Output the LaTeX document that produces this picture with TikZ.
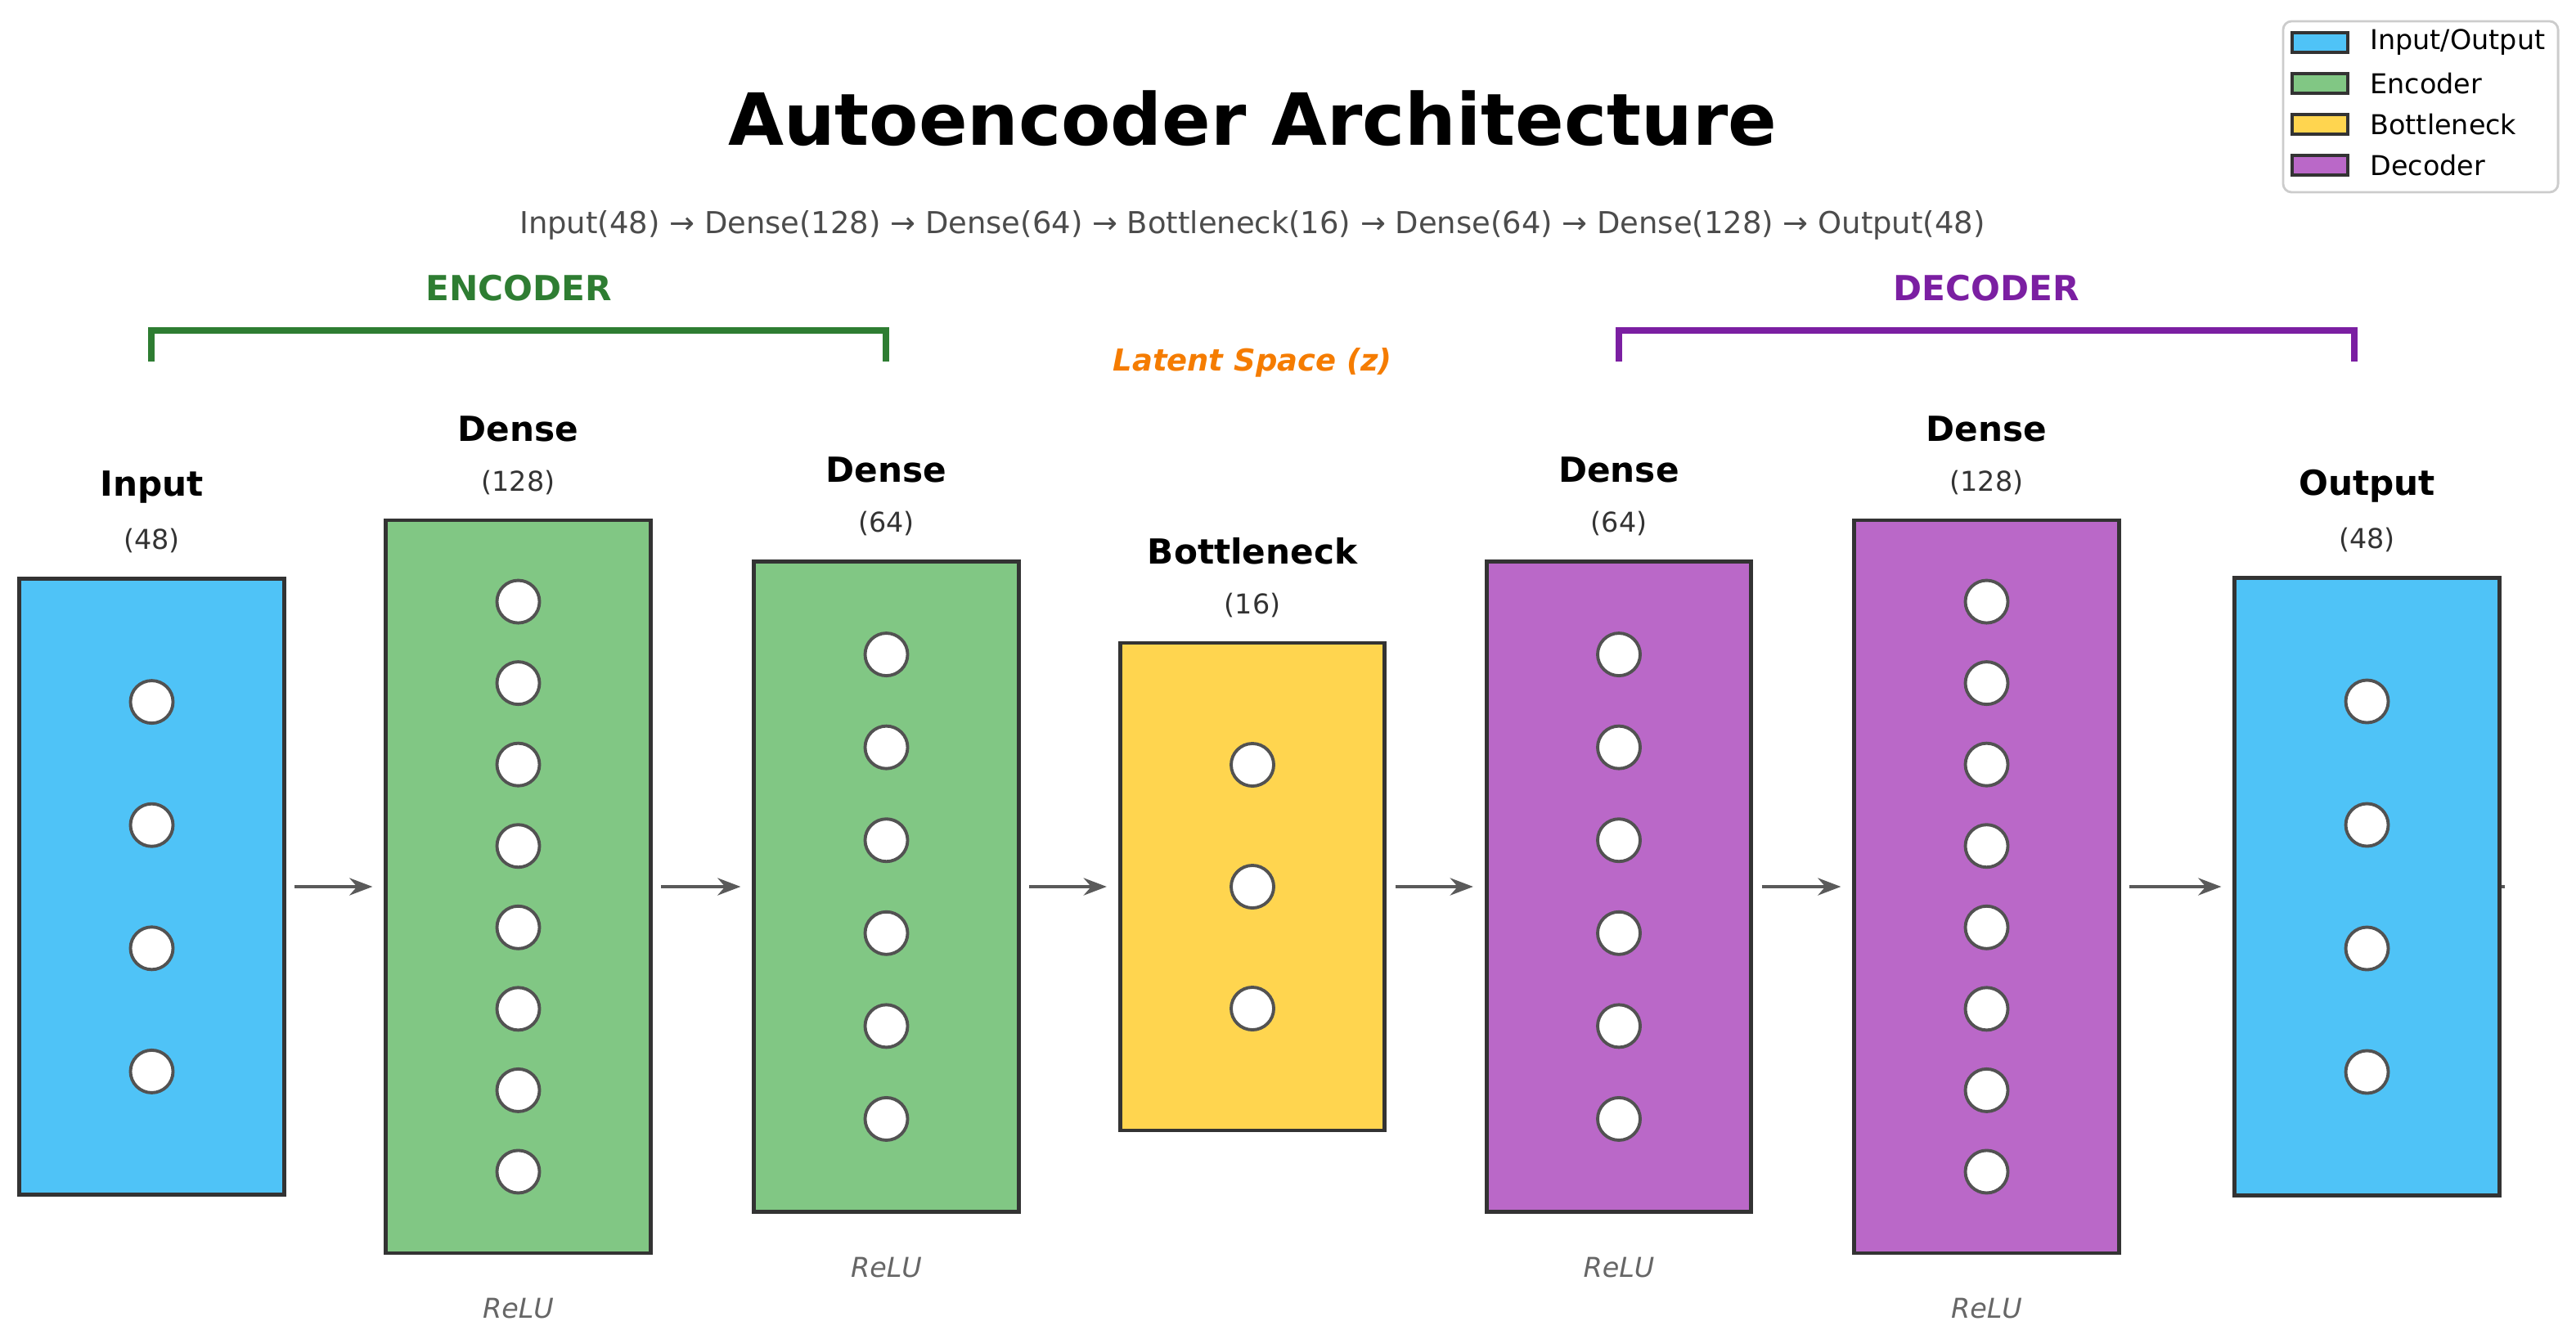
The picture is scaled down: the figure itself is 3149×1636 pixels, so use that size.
\documentclass[tikz,border=0pt]{standalone}
\usepackage{fontspec}
\setmainfont{DejaVu Sans}
\usetikzlibrary{arrows.meta,calc}
\definecolor{cio}{HTML}{4FC3F7}
\definecolor{cenc}{HTML}{81C784}
\definecolor{cbot}{HTML}{FFD54F}
\definecolor{cdec}{HTML}{BA68C8}
\definecolor{edge}{HTML}{333333}
\definecolor{arrg}{HTML}{5A5A5A}
\definecolor{gencl}{HTML}{2E7D32}
\definecolor{gdecl}{HTML}{7B1FA2}
\definecolor{latc}{HTML}{F57C00}
\begin{document}
\begin{tikzpicture}[x=0.01cm,y=-0.01cm,
  layer/.style={draw=edge,line width=1.4pt,minimum width=3.23cm,inner sep=0pt},
  neuron/.style={circle,draw=edge!85,line width=1.1pt,fill=white,minimum size=0.52cm,inner sep=0pt},
  ltitle/.style={font=\bfseries\fontsize{12}{14}\selectfont},
  lsub/.style={font=\fontsize{9.5}{11}\selectfont,text=edge},
  relu/.style={font=\itshape\fontsize{9.5}{11}\selectfont,text=black!60},
  arr/.style={draw=arrg,line width=1.2pt,-{Stealth[length=8pt,width=6pt]},shorten <=3pt,shorten >=4pt},
  legpatch/.style={draw=edge,line width=0.9pt,minimum width=0.68cm,minimum height=0.24cm,inner sep=0pt},
  legtxt/.style={anchor=west,font=\fontsize{9.5}{11}\selectfont},
  brk/.style={line width=2.2pt}]
\useasboundingbox (0,0) rectangle (3149,1636);
\node[font=\bfseries\fontsize{25}{30}\selectfont] (title) at (1531,145) {Autoencoder Architecture};
\node[font=\fontsize{10.5}{12}\selectfont,text=black!70] (sub) at (1531,275) {Input(48) → Dense(128) → Dense(64) → Bottleneck(16) → Dense(64) → Dense(128) → Output(48)};
\foreach \i/\cx/\h/\n/\col/\tt/\sb/\rl in {
  1/185.5/753/4/cio/Input/48/0,
  2/633.5/896/8/cenc/Dense/128/1,
  3/1083.5/795/6/cenc/Dense/64/1,
  4/1531/596/3/cbot/Bottleneck/16/0,
  5/1979/795/6/cdec/Dense/64/1,
  6/2428.5/896/8/cdec/Dense/128/1,
  7/2893.5/755/4/cio/Output/48/0}{
  \node[layer,fill=\col,minimum height=\h*0.01cm] (L\i) at (\cx,1084) {};
  \foreach \k in {1,...,\n}{
    \node[neuron] (L\i n\k) at (\cx,{1084-\h/2+\k*\h/(\n+1)}) {};
  }
  \node[ltitle] (T\i) at (\cx,{1084-\h/2-112}) {\tt};
  \node[lsub] (S\i) at (\cx,{1084-\h/2-46}) {(\sb)};
  \ifnum\rl=1 \node[relu] (R\i) at (\cx,{1084+\h/2+68}) {ReLU};\fi
}
\foreach \a/\b in {1/2,2/3,3/4,4/5,5/6,6/7}{\draw[arr] (L\a.east) -- (L\b.west);}
\coordinate (stub) at (3062,1084);
\draw[arrg,line width=1.2pt] (L7.east) -- (stub);
% brackets
\coordinate (e1) at (185,442); \coordinate (e2) at (1083,442);
\draw[brk,gencl] (e1) -- ++(0,-38) -| (e2);
\node[font=\bfseries\fontsize{12}{14}\selectfont,text=gencl] (enc) at (634,352) {ENCODER};
\coordinate (d1) at (1979,442); \coordinate (d2) at (2878,442);
\draw[brk,gdecl] (d1) -- ++(0,-38) -| (d2);
\node[font=\bfseries\fontsize{12}{14}\selectfont,text=gdecl] (dec) at (2428,352) {DECODER};
\node[font=\bfseries\itshape\fontsize{10.5}{12}\selectfont,text=latc] (lat) at (1531,443) {Latent Space (z)};
% legend
\node[draw=black!20,line width=0.8pt,rounded corners=3pt,minimum width=3.36cm,minimum height=2.09cm] (leg) at (2959,130.5) {};
\foreach \j/\c/\t in {0/cio/Input\slash Output,1/cenc/Encoder,2/cbot/Bottleneck,3/cdec/Decoder}{
  \node[legpatch,fill=\c] (P\j) at (2836,{52+\j*50}) {};
  \node[legtxt] (Q\j) at (2885,{52+\j*50}) {\t};
}
\end{tikzpicture}
\end{document}
